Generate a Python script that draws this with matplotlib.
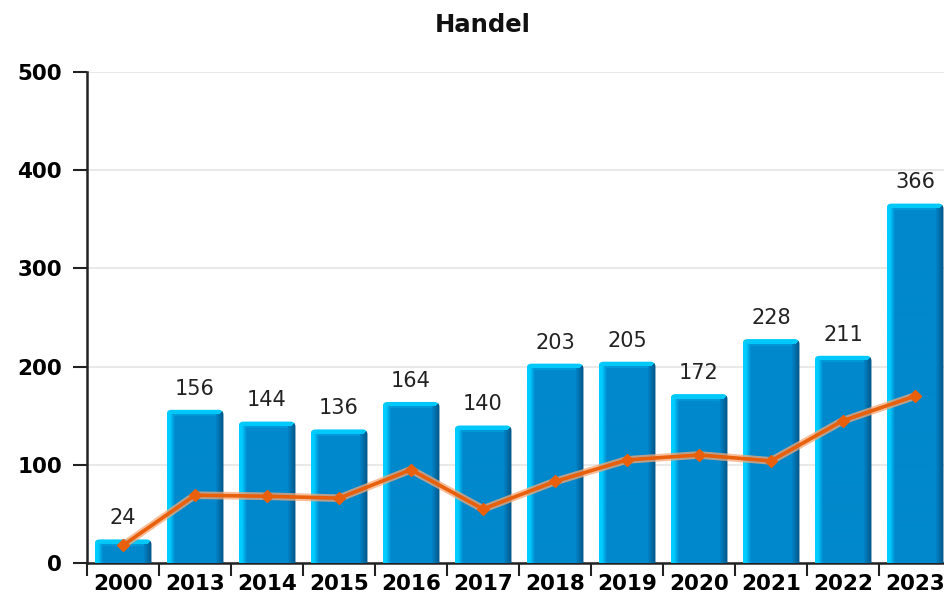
import numpy as np
import matplotlib
matplotlib.use("Agg")
import matplotlib.pyplot as plt
from matplotlib.path import Path
from matplotlib.patches import PathPatch

categories = ["2000", "2013", "2014", "2015", "2016", "2017", "2018", "2019", "2020", "2021", "2022", "2023"]
bar_values = [24, 156, 144, 136, 164, 140, 203, 205, 172, 228, 211, 366]
line_values = [18, 69, 68, 66, 95, 55, 83, 105, 110, 104, 145, 170]
title = "Handel"
y_ticks = [0, 100, 200, 300, 400, 500]

W_PX, H_PX = 945, 598
fig = plt.figure(figsize=(W_PX / 100, H_PX / 100), dpi=100)
ax = fig.add_axes([87 / W_PX, (H_PX - 563) / H_PX, 864 / W_PX, 491 / H_PX])

n = len(categories)
x = np.arange(n)
bw = 0.79
ax.set_xlim(-0.5, n - 0.5)
ax.set_ylim(0, 500)

main = np.array([0, 136, 204]) / 255
cyan = np.array([0, 205, 255]) / 255
dark = np.array([0, 85, 135]) / 255

bars = ax.bar(x, bar_values, width=bw, color=(0, 0.53, 0.8), zorder=2)

px_per_x = 864 / n
px_per_y = 491 / 500.0

for b, v in zip(bars, bar_values):
    x0 = b.get_x()
    x1 = x0 + b.get_width()
    wpx = int(round(b.get_width() * px_per_x))
    hpx = max(int(round(v * px_per_y)), 2)
    xs = np.arange(wpx)[None, :].repeat(hpx, 0).astype(float)
    ys = np.arange(hpx)[:, None].repeat(wpx, 1).astype(float)
    # left highlight: plateau then fade
    tl = np.clip((xs - 2.5) / 5.0, 0, 1)[..., None]
    left_col = cyan * (1 - tl) + main * tl
    # right shade
    tr = np.clip((wpx - 1 - xs) / 8.0, 0, 1)[..., None]
    right_col = dark * (1 - tr) + main * tr
    col = np.where(xs[..., None] < wpx / 2, left_col, right_col)
    # top band (bevel)
    top_band = 5.0
    in_top = (ys < top_band) & (ys <= xs + 0.5) & (ys <= (wpx - 1 - xs) + 0.5)
    topcol = np.array([0, 200, 250]) / 255
    col = np.where(in_top[..., None], topcol, col)
    edge = (ys >= top_band) & (ys < top_band + 2) & (xs > 6) & (xs < wpx - 8)
    col = np.where(edge[..., None], main * 0.75 + topcol * 0.25, col)
    im = ax.imshow(col, extent=(x0, x1, 0, v), origin="upper", aspect="auto",
                   interpolation="bilinear", zorder=3)
    r_x = 5 / px_per_x
    r_y = 5 / px_per_y
    verts = [(x0, 0), (x0, v - r_y), (x0, v), (x0 + r_x, v), (x1 - r_x, v),
             (x1, v), (x1, v - r_y), (x1, 0), (x0, 0)]
    codes = [Path.MOVETO, Path.LINETO, Path.CURVE3, Path.CURVE3, Path.LINETO,
             Path.CURVE3, Path.CURVE3, Path.LINETO, Path.CLOSEPOLY]
    clip = PathPatch(Path(verts, codes), transform=ax.transData, facecolor="none", edgecolor="none")
    ax.add_patch(clip)
    im.set_clip_path(clip)
    b.set_visible(False)
    ax.annotate(str(v), (b.get_x() + b.get_width() / 2, v), xytext=(0, 8),
                textcoords="offset points", ha="center", va="bottom",
                fontsize=15, color="#222222", zorder=5)

# line with glow
ax.plot(x, line_values, color="#F6A878", lw=5.5, alpha=0.75, zorder=4, solid_capstyle="round")
ax.plot(x, line_values, color="#E85F0C", lw=2.6, marker="D", markersize=6,
        markerfacecolor="#E85F0C", markeredgecolor="#E85F0C", zorder=5)

ax.set_yticks(y_ticks)
ax.yaxis.grid(True, color="#E5E5E5", lw=1.2, zorder=0)
ax.set_axisbelow(True)

ax.set_xticks(np.arange(-0.5, n, 1.0))
ax.set_xticklabels([])
ax.set_xticks(x, minor=True)
ax.set_xticklabels(categories, minor=True, fontsize=15.5, fontweight="bold")
ax.tick_params(axis="x", which="major", length=9, width=1.5, color="#222222")
ax.tick_params(axis="x", which="minor", length=0, pad=8)
ax.tick_params(axis="y", length=10, width=1.5, color="#222222", labelsize=15.5, pad=8)
for lab in ax.get_yticklabels():
    lab.set_fontweight("bold")

for s in ["top", "right"]:
    ax.spines[s].set_visible(False)
ax.spines["left"].set_linewidth(1.8)
ax.spines["bottom"].set_linewidth(1.8)
ax.spines["left"].set_color("#222222")
ax.spines["bottom"].set_color("#222222")

fig.text(483 / W_PX, 1 - 25 / H_PX, title, ha="center", va="center",
         fontsize=17.5, fontweight="bold", color="#111111")

fig.savefig("out.png", dpi=100)
